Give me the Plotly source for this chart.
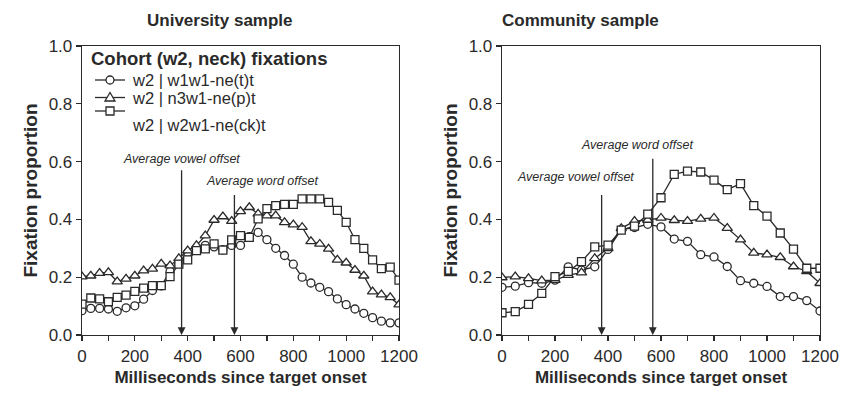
import plotly.graph_objects as go

# ---------------- data ----------------
univ_ms = [0, 33.3, 66.7, 100, 133.3, 166.7, 200, 233.3, 266.7, 300, 333.3, 366.7, 400,
           433.3, 466.7, 500, 533.3, 566.7, 600, 633.3, 666.7, 700, 733.3, 766.7, 800,
           833.3, 866.7, 900, 933.3, 966.7, 1000, 1033.3, 1066.7, 1100, 1133.3, 1166.7, 1200]
univ_t = [0.084, 0.092, 0.092, 0.090, 0.082, 0.094, 0.101, 0.124, 0.154, 0.170, 0.220, 0.250, 0.285,
          0.300, 0.310, 0.305, 0.295, 0.310, 0.310, 0.340, 0.355, 0.330, 0.300, 0.275, 0.245,
          0.200, 0.180, 0.165, 0.150, 0.125, 0.105, 0.090, 0.075, 0.060, 0.048, 0.042, 0.042]
univ_p = [0.202, 0.205, 0.214, 0.217, 0.185, 0.194, 0.205, 0.223, 0.229, 0.246, 0.240, 0.265, 0.292,
          0.310, 0.344, 0.398, 0.410, 0.394, 0.428, 0.442, 0.419, 0.413, 0.413, 0.390, 0.382,
          0.373, 0.324, 0.315, 0.298, 0.260, 0.250, 0.225, 0.205, 0.150, 0.140, 0.130, 0.105]
univ_ck = [0.107, 0.128, 0.125, 0.115, 0.130, 0.138, 0.151, 0.162, 0.171, 0.171, 0.202, 0.245, 0.260,
           0.292, 0.298, 0.315, 0.294, 0.329, 0.344, 0.338, 0.402, 0.437, 0.448, 0.452, 0.452,
           0.471, 0.471, 0.471, 0.459, 0.431, 0.390, 0.330, 0.300, 0.260, 0.230, 0.235, 0.190]

comm_ms = [0, 50, 100, 150, 200, 250, 300, 350, 400, 450, 500, 550, 600,
           650, 700, 750, 800, 850, 900, 950, 1000, 1050, 1100, 1150, 1200]
comm_t = [0.165, 0.169, 0.181, 0.179, 0.190, 0.236, 0.225, 0.236, 0.296, 0.365, 0.372, 0.383, 0.374,
          0.332, 0.324, 0.278, 0.270, 0.237, 0.188, 0.179, 0.168, 0.133, 0.133, 0.119, 0.083]
comm_p = [0.199, 0.202, 0.196, 0.188, 0.190, 0.207, 0.216, 0.265, 0.300, 0.369, 0.394, 0.398, 0.405,
          0.397, 0.394, 0.402, 0.405, 0.370, 0.330, 0.284, 0.278, 0.269, 0.237, 0.220, 0.179]
comm_ck = [0.077, 0.081, 0.106, 0.144, 0.202, 0.220, 0.254, 0.305, 0.311, 0.363, 0.377, 0.418, 0.475,
           0.556, 0.567, 0.564, 0.536, 0.503, 0.524, 0.448, 0.411, 0.353, 0.297, 0.231, 0.231]

series_names = ["w2 | w1w1-ne(t)t", "w2 | n3w1-ne(p)t", "w2 | w2w1-ne(ck)t"]
panel_titles = ["University sample", "Community sample"]
legend_title = "Cohort (w2, neck) fixations"
x_title = "Milliseconds since target onset"
y_title = "Fixation proportion"
vowel_offset = [377, 376]
word_offset = [577, 569]
vowel_label = "Average vowel offset"
word_label = "Average word offset"

# ---------------- figure ----------------
W, H = 841, 397
INK = "#2a2a2a"
FONT = "Liberation Sans, Arial, sans-serif"
symbols = ["circle", "triangle-up", "square"]
msizes = [8, 9, 8]

fig = go.Figure()
panels = [(univ_ms, [univ_t, univ_p, univ_ck], "x", "y"),
          (comm_ms, [comm_t, comm_p, comm_ck], "x2", "y2")]
for pi, (xs, ys_list, xa, ya) in enumerate(panels):
    for si, ys in enumerate(ys_list):
        fig.add_trace(go.Scatter(
            x=xs, y=ys, xaxis=xa, yaxis=ya, mode="lines+markers",
            name=series_names[si], showlegend=False,
            line=dict(color=INK, width=1.3),
            marker=dict(symbol=symbols[si], size=msizes[si], color="white",
                        line=dict(color=INK, width=1.3)),
        ))

axis_common = dict(showline=True, linecolor=INK, linewidth=1.3, mirror=True,
                   ticks="outside", tickcolor=INK, ticklen=5, tickwidth=1.3,
                   showgrid=False, zeroline=False, automargin=False,
                   tickfont=dict(family=FONT, size=17, color=INK))
xcommon = dict(axis_common, range=[0, 1200], dtick=200, tick0=0,
               minor=dict(dtick=100, ticks="outside", ticklen=5, tickcolor=INK, tickwidth=1.3),
               title=dict(text="<b>" + x_title + "</b>", font=dict(family=FONT, size=17, color=INK),
                          standoff=6))
ycommon = dict(axis_common, range=[0, 1.0], dtick=0.2, tickformat=".1f",
               title=dict(text="<b>" + y_title + "</b>", font=dict(family=FONT, size=19, color=INK),
                          standoff=6))

fig.update_layout(
    width=W, height=H,
    margin=dict(l=0, r=0, t=0, b=0, pad=0, autoexpand=False),
    paper_bgcolor="white", plot_bgcolor="white",
    font=dict(family=FONT, color=INK),
    hovermode=False,
    xaxis=dict(xcommon, domain=[82 / W, 399 / W], anchor="y"),
    yaxis=dict(ycommon, domain=[1 - 335 / H, 1 - 46 / H], anchor="x"),
    xaxis2=dict(xcommon, domain=[502 / W, 820 / W], anchor="y2"),
    yaxis2=dict(ycommon, domain=[1 - 335 / H, 1 - 46 / H], anchor="x2"),
    showlegend=False,
)

def px(x):
    return x / W

def py(y):
    return 1 - y / H

# legend (drawn as a key inside the University panel)
fig.add_annotation(x=px(89), y=py(58), xref="paper", yref="paper", xanchor="left", yanchor="middle",
                   text="<b>" + legend_title + "</b>", showarrow=False,
                   font=dict(family=FONT, size=18.5, color=INK))
key_line_y = [80, 97.5, 111]
key_text_y = [80, 97.5, 125]
for si in range(3):
    ky = key_line_y[si]
    fig.add_shape(type="line", xref="paper", yref="paper", x0=px(95), x1=px(125), y0=py(ky), y1=py(ky),
                  line=dict(color=INK, width=1.3))
    if symbols[si] == "circle":
        fig.add_shape(type="circle", xref="paper", yref="paper", x0=px(106), x1=px(114),
                      y0=py(ky + 4), y1=py(ky - 4), fillcolor="white", line=dict(color=INK, width=1.3))
    elif symbols[si] == "triangle-up":
        path = "M {:.5f},{:.5f} L {:.5f},{:.5f} L {:.5f},{:.5f} Z".format(
            px(110), py(ky - 5), px(105), py(ky + 3.5), px(115), py(ky + 3.5))
        fig.add_shape(type="path", xref="paper", yref="paper", path=path,
                      fillcolor="white", line=dict(color=INK, width=1.3))
    else:
        fig.add_shape(type="rect", xref="paper", yref="paper", x0=px(106), x1=px(114),
                      y0=py(ky + 4), y1=py(ky - 4), fillcolor="white", line=dict(color=INK, width=1.3))
    fig.add_annotation(x=px(130), y=py(key_text_y[si]), xref="paper", yref="paper",
                       xanchor="left", yanchor="middle", text=series_names[si], showarrow=False,
                       font=dict(family=FONT, size=16.5, color=INK))

# panel titles
title_x = [220, 580]
for t, tx in zip(panel_titles, title_x):
    fig.add_annotation(x=px(tx), y=py(21), xref="paper", yref="paper",
                       xanchor="center", yanchor="middle", text="<b>" + t + "</b>",
                       showarrow=False, font=dict(family=FONT, size=17, color=INK))

# offset arrows and labels
arrow_top_v = [0.575, 0.49]
arrow_top_w = [0.49, 0.615]
vlabel_pos = [(377, 0.61), (279, 0.548)]
wlabel_pos = [(681, 0.532), (509, 0.657)]
for pi, (xa, ya) in enumerate([("x", "y"), ("x2", "y2")]):
    for xv, top in [(vowel_offset[pi], arrow_top_v[pi]), (word_offset[pi], arrow_top_w[pi])]:
        fig.add_annotation(x=xv, y=0.0, ax=xv, ay=top, xref=xa, yref=ya, axref=xa, ayref=ya,
                           text="", showarrow=True, arrowhead=2, arrowsize=1.2,
                           arrowwidth=1.3, arrowcolor=INK)
    for (lx, ly), lab in [(vlabel_pos[pi], vowel_label), (wlabel_pos[pi], word_label)]:
        fig.add_annotation(x=lx, y=ly, xref=xa, yref=ya, xanchor="center", yanchor="middle",
                           text="<i>" + lab + "</i>",
                           showarrow=False, font=dict(family=FONT, size=12.5, color=INK))

# remove the default page margin so the figure sits at the window's top-left corner
fig.write_html("out.html", config={"displayModeBar": False, "staticPlot": True},
               post_script="document.body.style.margin='0';")
